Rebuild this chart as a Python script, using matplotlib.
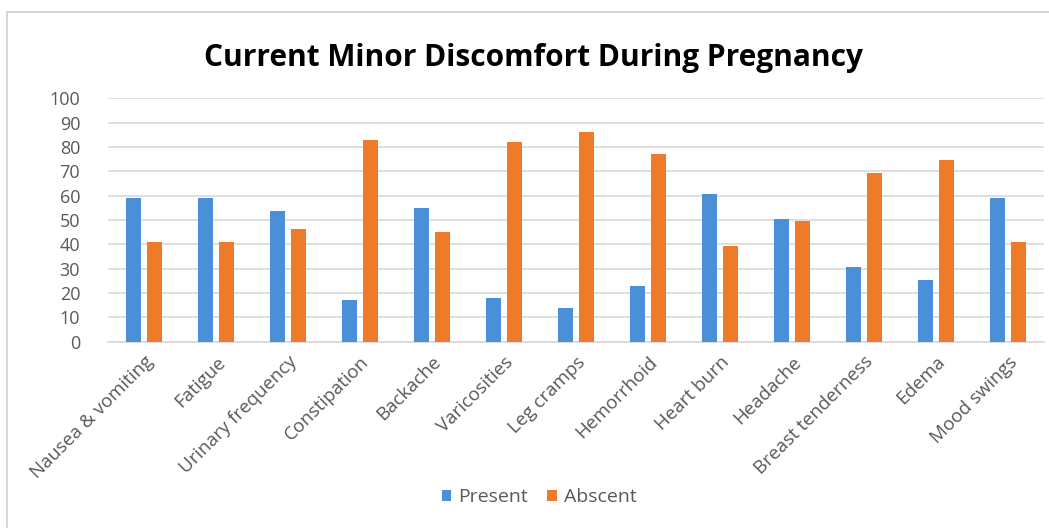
import matplotlib
matplotlib.use("Agg")
import matplotlib.pyplot as plt
import numpy as np
from matplotlib.patches import Rectangle

categories = ["Nausea & vomiting", "Fatigue", "Urinary frequency", "Constipation",
              "Backache", "Varicosities", "Leg cramps", "Hemorrhoid", "Heart burn",
              "Headache", "Breast tenderness", "Edema", "Mood swings"]
present = [59, 59, 53.5, 17, 55, 18, 14, 22.8, 60.5, 50.4, 30.8, 25.2, 59]
absent = [41, 41, 46.5, 83, 45, 82, 86, 77.2, 39.5, 49.6, 69.2, 74.8, 41]

plt.rcParams['font.family'] = ['Open Sans', 'DejaVu Sans']

fig = plt.figure(figsize=(10.49, 5.28), dpi=100)
ax = fig.add_axes([108/1049, 1-341.7/528, 936/1049, (341.7-98.3)/528])

# chart border (cropped on right/bottom)
fig.patches.append(Rectangle((7/1049, -0.05), 1.1, 1-12/528+0.05, transform=fig.transFigure,
                             fill=False, edgecolor='#d0d0d0', linewidth=1.2))

x = np.arange(len(categories))
w = 0.215
ax.bar(x - 0.147, present, w, color='#4a8fd8', label='Present', zorder=3)
ax.bar(x + 0.147, absent, w, color='#ee7b2a', label='Abscent', zorder=3)

ax.set_xlim(-0.5, len(categories) - 0.5)
ax.set_ylim(0, 100)
ax.set_yticks(range(0, 101, 10))
ax.yaxis.grid(True, color='#d9d9d9', linewidth=1.2, zorder=0)
for s in ['top', 'right', 'left']:
    ax.spines[s].set_visible(False)
ax.spines['bottom'].set_color('#d9d9d9')
ax.spines['bottom'].set_linewidth(1.2)
ax.tick_params(axis='both', length=0, colors='#595959')
ax.tick_params(axis='y', pad=20, labelsize=13)
ax.set_xticks(x)
ax.set_xticklabels(categories, rotation=45, ha='right', rotation_mode='anchor')
ax.tick_params(axis='x', pad=8, labelsize=13.5)

fig.text(534/1049, 1-58/528, "Current Minor Discomfort During Pregnancy",
         ha='center', va='center', fontsize=21.5, fontweight='bold', color='black')

leg = fig.legend(loc='center', bbox_to_anchor=(539/1049, 1-497/528), ncol=2, frameon=False,
                 fontsize=14, handlelength=0.5, handleheight=0.5, handletextpad=0.35,
                 columnspacing=1.0)
for t in leg.get_texts():
    t.set_color('#595959')

fig.savefig("out.png", dpi=100)
